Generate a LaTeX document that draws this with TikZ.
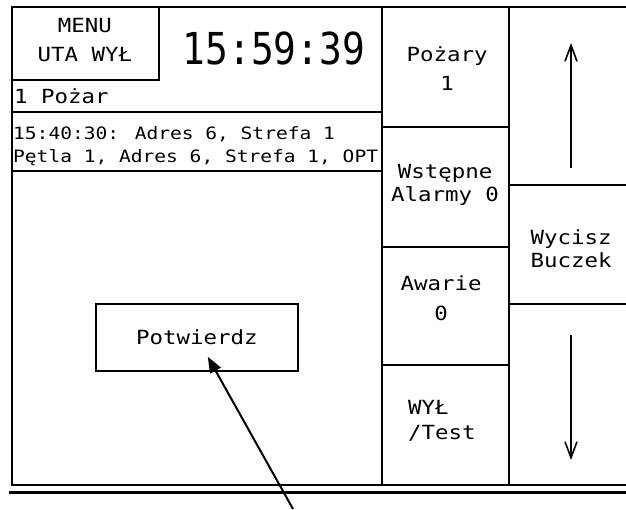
\documentclass[tikz,border=0pt]{standalone}
\usepackage{fontspec}
\newfontfamily\panelfont[FakeStretch=1.15]{DejaVu Sans Mono}
\newfontfamily\clockfont[FakeStretch=0.86]{DejaVu Sans Mono}
\usetikzlibrary{arrows.meta,calc}
\tikzset{
  frameline/.style={line width=2pt},
  paneltext/.style={font=\panelfont\fontsize{19.5}{#1}\selectfont, inner sep=0pt},
  btntext/.style={paneltext=#1, align=center},
  scrollarrow/.style={line width=1.6pt, -{Straight Barb[length=16pt,width=12pt]}},
}
\begin{document}
\begin{tikzpicture}[x=1pt,y=-1pt]
\useasboundingbox (0,0) rectangle (626,509);

% ramka ekranu
\draw[frameline] (626,7) -- (12,7) -- (12,485) -- (626,485);
\draw[frameline] (12,80) -- (159,80) -- (159,7);
\draw[frameline] (12,112) -- (382,112);
\draw[frameline] (12,171) -- (382,171);
\draw[frameline] (382,7) -- (382,485);
\draw[frameline] (509,7) -- (509,485);
\foreach \y in {127,247,365}
  \draw[frameline] (382,\y) -- (509,\y);
\foreach \y in {185,304}
  \draw[frameline] (509,\y) -- (626,\y);
\draw[line width=3pt] (9,492) -- (626,492);

% teksty
\node[btntext=29] (menu) at (85,40) {MENU\\UTA WYŁ};
\node[inner sep=0pt, font=\clockfont\fontsize{44}{44}\selectfont] (clock) at (274,48) {15:59:39};
\node[inner sep=0pt, anchor=west] (firecount) at (14,96) {\panelfont\fontsize{19.5}{24}\selectfont 1 Pożar};
\node[font=\panelfont\fontsize{17}{23}\selectfont, inner sep=0pt, align=left, anchor=west] (event) at (13,146)
  {15:40:30: Adres 6, Strefa 1\\Pętla 1, Adres 6, Strefa 1, OPT};

\node[btntext=29] (pozary) at (447,69) {Pożary\\1};
\node[btntext=23] (wstepne) at (445,185) {Wstępne\\Alarmy 0};
\node[btntext=30] (awarie) at (441,298) {Awarie\\0};
\node[paneltext=25, align=left, anchor=west] (wyltest) at (408,421) {WYŁ\\/Test};
\node[btntext=23] (wycisz) at (571,249) {Wycisz\\Buczek};

\node[draw, frameline, paneltext=27, minimum width=202pt, minimum height=67pt] (confirm) at (197,337.5) {Potwierdz};

% strzalki
\coordinate (upfoot) at (571,168);
\coordinate (uptip) at (571,43);
\coordinate (downfoot) at (571,335);
\coordinate (downtip) at (571,460);
\draw[scrollarrow] (upfoot) -- (uptip);
\draw[scrollarrow] (downfoot) -- (downtip);

\coordinate (finger) at (293,509);
\draw[line width=2pt, -{Triangle[length=16pt,width=12pt]}, shorten >=22pt] (finger) -- (confirm.center);
\end{tikzpicture}
\end{document}
